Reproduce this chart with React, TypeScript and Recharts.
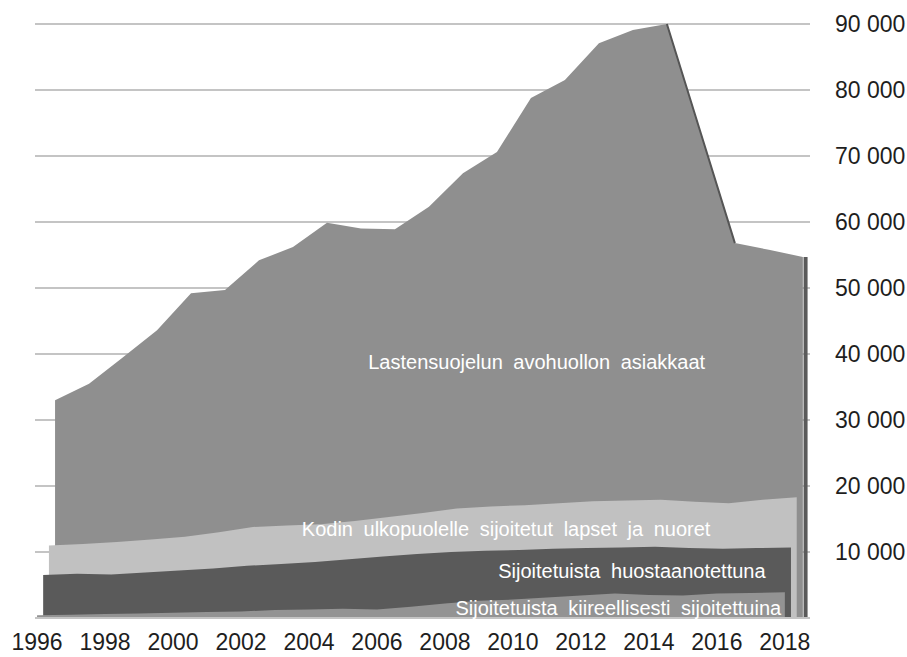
import { ComposedChart, Area, Line, XAxis, YAxis, CartesianGrid, ReferenceDot, ReferenceLine } from "recharts";

const years = [
  1996, 1997, 1998, 1999, 2000, 2001, 2002, 2003, 2004, 2005, 2006, 2007,
  2008, 2009, 2010, 2011, 2012, 2013, 2014, 2015, 2016, 2017, 2018,
];

// Lastensuojelun avohuollon asiakkaat
const avohuolto = [
  33000, 35500, 39500, 43600, 49200, 49700, 54200, 56200, 59900, 59000, 58900,
  62300, 67400, 70600, 78800, 81500, 87100, 89100, 90000, 73400, 56800, 55800,
  54700,
];
// Kodin ulkopuolelle sijoitetut lapset ja nuoret
const sijoitetut = [
  11000, 11200, 11500, 11900, 12300, 13000, 13800, 14000, 14200, 14700, 15300,
  15900, 16600, 16900, 17100, 17400, 17700, 17800, 17900, 17600, 17400, 17900,
  18300,
];
// Sijoitetuista huostaanotettuna
const huostaan = [
  6500, 6700, 6600, 6900, 7200, 7500, 7900, 8200, 8500, 8900, 9300, 9700,
  10000, 10200, 10300, 10500, 10600, 10700, 10800, 10600, 10500, 10600, 10700,
];
// Sijoitetuista kiireellisesti sijoitettuina
const kiireelliset = [
  400, 500, 600, 700, 800, 900, 1000, 1200, 1300, 1400, 1300, 1700, 2200, 2600,
  2800, 3100, 3400, 3700, 3500, 3400, 3700, 3800, 3900,
];

const xTicks = [1996, 1998, 2000, 2002, 2004, 2006, 2008, 2010, 2012, 2014, 2016, 2018];
const yTicks = [0, 10000, 20000, 30000, 40000, 50000, 60000, 70000, 80000, 90000];

// pseudo-3D depth: back series are drawn shifted to the right
const BACK = 0.53;
const series = (values: number[], shift: number) =>
  years.map((y, i) => ({ x: y + shift, v: values[i] }));

const avoData = series(avohuolto, BACK);
// the dark side face where the back area falls (2014 -> 2016)
const sideFace = avoData.slice(18, 21);
const last = avoData[avoData.length - 1];

const fmt = (v: number) => (v === 0 ? "" : v.toLocaleString("fi-FI").replace(/\s/g, " "));

const font = "'Liberation Sans', Arial, sans-serif";
const labelStyle = { fill: "#ffffff", fontSize: 20, fontFamily: font, wordSpacing: 5 };

export default function App() {
  return (
    <div style={{ position: "absolute", left: 0, top: 0, background: "#fff" }}>
      <ComposedChart
        width={907}
        height={657}
        margin={{ top: 24, right: 0, left: 35, bottom: 0 }}
      >
        <CartesianGrid vertical={false} stroke="#c4c4c4" strokeWidth={2} />
        <XAxis
          type="number"
          dataKey="x"
          domain={[1995.94, 2018.74]}
          ticks={xTicks}
          allowDataOverflow
          axisLine={{ stroke: "#c4c4c4", strokeWidth: 2 }}
          tickLine={false}
          height={39}
          tick={{ fill: "#1e1e1e", fontSize: 23, fontFamily: font }}
          tickMargin={10}
        />
        <YAxis
          orientation="right"
          domain={[0, 90000]}
          ticks={yTicks}
          width={97}
          axisLine={false}
          tickLine={false}
          tickFormatter={fmt}
          tick={{ fill: "#1e1e1e", fontSize: 23, fontFamily: font }}
          tickMargin={19}
        />
        <Area
          data={avoData}
          dataKey="v"
          type="linear"
          fill="#8f8f8f"
          fillOpacity={1}
          stroke="none"
          isAnimationActive={false}
        />
        <Line
          data={sideFace}
          dataKey="v"
          type="linear"
          stroke="#555555"
          strokeWidth={2}
          dot={false}
          isAnimationActive={false}
        />
        <ReferenceLine
          segment={[
            { x: last.x + 0.08, y: 0 },
            { x: last.x + 0.08, y: last.v },
          ]}
          stroke="#5a5a5a"
          strokeWidth={4}
        />
        <Area
          data={series(sijoitetut, 0.35)}
          dataKey="v"
          type="linear"
          fill="#c1c1c1"
          fillOpacity={1}
          stroke="none"
          isAnimationActive={false}
        />
        <Area
          data={series(huostaan, 0.18)}
          dataKey="v"
          type="linear"
          fill="#5a5a5a"
          fillOpacity={1}
          stroke="none"
          isAnimationActive={false}
        />
        <Area
          data={series(kiireelliset, 0)}
          dataKey="v"
          type="linear"
          fill="#939393"
          fillOpacity={1}
          stroke="none"
          isAnimationActive={false}
        />
        <ReferenceDot
          x={2010.7}
          y={38800}
          r={0}
          label={{ value: "Lastensuojelun avohuollon asiakkaat", position: "center", ...labelStyle }}
        />
        <ReferenceDot
          x={2009.8}
          y={13500}
          r={0}
          label={{ value: "Kodin ulkopuolelle sijoitetut lapset ja nuoret", position: "center", ...labelStyle }}
        />
        <ReferenceDot
          x={2013.5}
          y={7100}
          r={0}
          label={{ value: "Sijoitetuista huostaanotettuna", position: "center", ...labelStyle }}
        />
        <ReferenceDot
          x={2013.1}
          y={1500}
          r={0}
          label={{ value: "Sijoitetuista kiireellisesti sijoitettuina", position: "center", ...labelStyle }}
        />
      </ComposedChart>
    </div>
  );
}
